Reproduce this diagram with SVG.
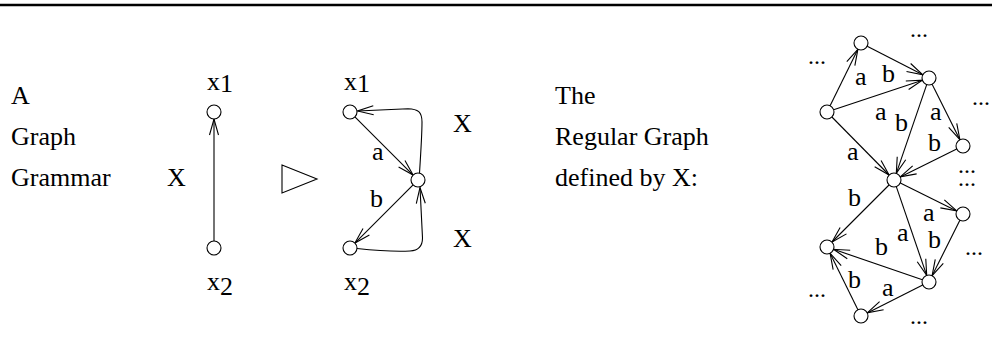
<svg xmlns="http://www.w3.org/2000/svg" width="992" height="358" viewBox="0 0 992 358">
<style>
text{font-family:"Liberation Serif","Times New Roman",serif;font-size:26px;fill:#000}
.dots{font-size:24px}
.n{fill:#fff;stroke:#000;stroke-width:1.1}
.e{fill:none;stroke:#000;stroke-width:1.1}
</style>
<defs>
<marker id="ah" markerUnits="userSpaceOnUse" markerWidth="20" markerHeight="12" viewBox="-17 -6 20 12" refX="0" refY="0" orient="auto">
<path d="M-16,-4.5 L0,0 L-16,4.5" fill="none" stroke="#000" stroke-width="1.1"/>
</marker>
</defs>
<rect width="992" height="358" fill="#fff"/>
<line x1="0" y1="5" x2="992" y2="5" stroke="#000" stroke-width="2.5"/>

<g id="text">
<text x="11" y="104">A</text>
<text x="11" y="145">Graph</text>
<text x="11" y="186">Grammar</text>
<text x="167" y="186">X</text>
<text x="555" y="104">The</text>
<text x="555" y="145">Regular Graph</text>
<text x="555" y="186">defined by X:</text>
<text x="453" y="132">X</text>
<text x="453" y="247">X</text>
<text x="207" y="90">x<tspan dy="2">1</tspan></text>
<text x="207" y="290">x<tspan dy="5">2</tspan></text>
<text x="344" y="90">x<tspan dy="2">1</tspan></text>
<text x="344" y="290">x<tspan dy="5">2</tspan></text>
</g>

<polygon id="derive" points="282,165 317,179 282,193" fill="none" stroke="#000" stroke-width="1.1"/>

<g id="connectors">
<line class="e" x1="214" y1="241" x2="214" y2="119" marker-end="url(#ah)"/>
<line class="e" x1="354.9" y1="116.9" x2="413.1" y2="175.1" marker-end="url(#ah)"/>
<line class="e" x1="413.1" y1="184.9" x2="354.9" y2="243.1" marker-end="url(#ah)"/>
<path class="e" d="M419.5 173 C421 150 422 130 422 122 C422 112 418 109 408 108.7 L357.5 111" marker-end="url(#ah)"/>
<path class="e" d="M357 248.5 C380 251 400 251.5 410 251 C419 250.5 422.5 246 422.5 238 L420 187.5" marker-end="url(#ah)"/>
<text x="372" y="160">a</text>
<text x="370" y="207">b</text>

<line class="e" x1="830.1" y1="105.7" x2="857.9" y2="49.3" marker-end="url(#ah)"/>
<line class="e" x1="867.2" y1="46.2" x2="922.8" y2="74.8" marker-end="url(#ah)"/>
<line class="e" x1="833.6" y1="109.8" x2="922.4" y2="80.2" marker-end="url(#ah)"/>
<line class="e" x1="932.1" y1="84.3" x2="959.9" y2="139.7" marker-end="url(#ah)"/>
<line class="e" x1="926.7" y1="84.6" x2="896.3" y2="173.4" marker-end="url(#ah)"/>
<line class="e" x1="831.9" y1="117" x2="889.1" y2="175" marker-end="url(#ah)"/>
<line class="e" x1="956.7" y1="149.1" x2="900.3" y2="176.9" marker-end="url(#ah)"/>
<line class="e" x1="900.3" y1="183.1" x2="956.7" y2="210.9" marker-end="url(#ah)"/>
<line class="e" x1="896.3" y1="186.6" x2="926.7" y2="275.4" marker-end="url(#ah)"/>
<line class="e" x1="959.9" y1="220.3" x2="932.1" y2="275.7" marker-end="url(#ah)"/>
<line class="e" x1="889" y1="185" x2="832" y2="242" marker-end="url(#ah)"/>
<line class="e" x1="922.4" y1="279.7" x2="833.6" y2="249.3" marker-end="url(#ah)"/>
<line class="e" x1="857.9" y1="309.7" x2="830.1" y2="253.3" marker-end="url(#ah)"/>
<line class="e" x1="922.7" y1="285.1" x2="867.3" y2="312.9" marker-end="url(#ah)"/>
<text x="855" y="85">a</text>
<text x="882" y="82">b</text>
<text x="875" y="120">a</text>
<text x="895" y="131">b</text>
<text x="930" y="120">a</text>
<text x="928" y="151">b</text>
<text x="847" y="160">a</text>
<text x="848" y="206">b</text>
<text x="923" y="221">a</text>
<text x="897" y="241">a</text>
<text x="875" y="255">b</text>
<text x="928" y="248">b</text>
<text x="848" y="288">b</text>
<text x="882" y="296">a</text>
</g>

<g id="ellipses">
<text class="dots" x="910" y="37">...</text>
<text class="dots" x="808" y="64">...</text>
<text class="dots" x="972" y="105">...</text>
<text class="dots" x="958" y="173">...<tspan x="958" dy="13">...</tspan></text>
<text class="dots" x="965" y="255">...</text>
<text class="dots" x="808" y="297">...</text>
<text class="dots" x="910" y="324">...</text>
</g>

<g id="node-x1"><circle class="n" cx="214" cy="112" r="7"/></g>
<g id="node-x2"><circle class="n" cx="214" cy="248" r="7"/></g>
<g id="node-r-x1"><circle class="n" cx="350" cy="112" r="7"/></g>
<g id="node-r-mid"><circle class="n" cx="418" cy="180" r="7"/></g>
<g id="node-r-x2"><circle class="n" cx="350" cy="248" r="7"/></g>
<g id="node-g1"><circle class="n" cx="861" cy="43" r="7"/></g>
<g id="node-g2"><circle class="n" cx="929" cy="78" r="7"/></g>
<g id="node-g3"><circle class="n" cx="827" cy="112" r="7"/></g>
<g id="node-g4"><circle class="n" cx="963" cy="146" r="7"/></g>
<g id="node-g5"><circle class="n" cx="894" cy="180" r="7"/></g>
<g id="node-g6"><circle class="n" cx="963" cy="214" r="7"/></g>
<g id="node-g7"><circle class="n" cx="827" cy="247" r="7"/></g>
<g id="node-g8"><circle class="n" cx="929" cy="282" r="7"/></g>
<g id="node-g9"><circle class="n" cx="861" cy="316" r="7"/></g>
</svg>
